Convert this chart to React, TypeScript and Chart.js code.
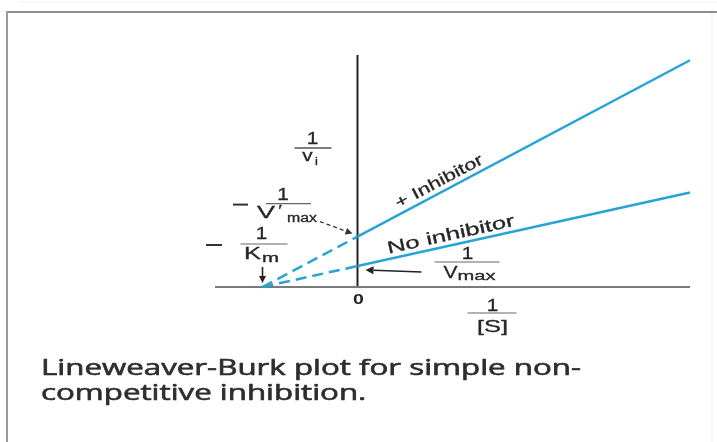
import { useEffect, useRef } from "react";
import { Chart, registerables } from "chart.js";

Chart.register(...registerables);

// ---- data (Lineweaver-Burk plot, arbitrary units) ----
const substrateInv = [-1, 0, 3.5]; // 1/[S]
const noInhibitorInv = [0, 1, 4.5]; // 1/v, no inhibitor
const withInhibitorInv = [0, 2.4, 10.8]; // 1/v, + inhibitor
const xAxisRange = [-1.5, 3.5];
const yAxisRange = [0, 11.05];
const seriesNames = ["+ Inhibitor", "No inhibitor"];
const originLabel = "0";
const captionLines = ["Lineweaver-Burk plot for simple non-", "competitive inhibition."];

const LINE_COLOR = "#27a3d6";
const LABEL_FONT = '"Liberation Sans", Arial, sans-serif';
const CAPTION_FONT = '"Open Sans", "Noto Sans", sans-serif';
const INK = "#262626";

type TOpts = {
  size: number;
  family?: string;
  weight?: string;
  color?: string;
  sx?: number;
  w?: number;
  rot?: number;
  align?: CanvasTextAlign;
  baseline?: CanvasTextBaseline;
  stroke?: number;
};

function drawText(ctx: CanvasRenderingContext2D, s: string, x: number, y: number, o: TOpts) {
  ctx.save();
  ctx.font = `${o.weight ?? "normal"} ${o.size}px ${o.family ?? LABEL_FONT}`;
  let sx = o.sx ?? 1;
  if (o.w) sx = o.w / ctx.measureText(s).width;
  ctx.translate(x, y);
  if (o.rot) ctx.rotate(o.rot);
  ctx.scale(sx, 1);
  ctx.fillStyle = o.color ?? INK;
  ctx.textAlign = o.align ?? "center";
  ctx.textBaseline = o.baseline ?? "middle";
  ctx.fillText(s, 0, 0);
  const st = o.stroke ?? 0.3;
  if (st > 0) {
    ctx.strokeStyle = o.color ?? INK;
    ctx.lineWidth = st;
    ctx.lineJoin = "round";
    ctx.strokeText(s, 0, 0);
  }
  ctx.restore();
}

function line(ctx: CanvasRenderingContext2D, x1: number, y1: number, x2: number, y2: number, color: string, w: number, dash: number[] = []) {
  ctx.save();
  ctx.strokeStyle = color;
  ctx.lineWidth = w;
  ctx.setLineDash(dash);
  ctx.beginPath();
  ctx.moveTo(x1, y1);
  ctx.lineTo(x2, y2);
  ctx.stroke();
  ctx.restore();
}

function arrow(ctx: CanvasRenderingContext2D, x1: number, y1: number, x2: number, y2: number, color: string, w: number, dash: number[] = [], head = 7) {
  const a = Math.atan2(y2 - y1, x2 - x1);
  const bx = x2 - Math.cos(a) * head;
  const by = y2 - Math.sin(a) * head;
  line(ctx, x1, y1, bx, by, color, w, dash);
  ctx.save();
  ctx.fillStyle = color;
  ctx.beginPath();
  ctx.moveTo(x2, y2);
  ctx.lineTo(bx + Math.sin(a) * head * 0.5, by - Math.cos(a) * head * 0.5);
  ctx.lineTo(bx - Math.sin(a) * head * 0.5, by + Math.cos(a) * head * 0.5);
  ctx.closePath();
  ctx.fill();
  ctx.restore();
}

const annotations = {
  id: "lbAnnotations",
  afterDraw(chart: any) {
    const ctx: CanvasRenderingContext2D = chart.ctx;
    const xs = chart.scales.x;
    const ys = chart.scales.y;
    const px = (v: number) => xs.getPixelForValue(v);
    const py = (v: number) => ys.getPixelForValue(v);
    const ox = px(0);
    const oy = py(0);
    const kmX = px(substrateInv[0]);
    const vmaxY = py(noInhibitorInv[1]);
    const vmaxPY = py(withInhibitorInv[1]);
    const S = 1.3;

    // frame
    line(ctx, 7, 12, 717, 12, "#8e8e8e", 2);
    line(ctx, 7, 11, 7, 442, "#9a9a9a", 2);
    line(ctx, 712, 13, 712, 442, "#ececec", 1);
    line(ctx, 20, 2, 717, 2, "#eeeeee", 1);

    // 1 / v_i
    drawText(ctx, "1", ox - 45, 140, { size: 16, sx: S });
    line(ctx, ox - 63, 148, ox - 26, 148, "#555", 1.3);
    drawText(ctx, "v", ox - 50, 157, { size: 16, sx: S });
    drawText(ctx, "i", ox - 41, 162, { size: 10, sx: S });

    // - 1 / V'max
    line(ctx, 233, vmaxPY - 32, 248, vmaxPY - 32, "#333", 2);
    drawText(ctx, "1", 283, vmaxPY - 41, { size: 16, sx: S });
    line(ctx, 266, vmaxPY - 33, 311, vmaxPY - 33, "#666", 1.2);
    drawText(ctx, "V", 266, vmaxPY - 23, { size: 17, w: 18 });
    drawText(ctx, "\u2032", 280, vmaxPY - 26, { size: 15, sx: S });
    drawText(ctx, "max", 302, vmaxPY - 18, { size: 12, w: 30 });
    arrow(ctx, 320, vmaxPY - 15, ox - 5, vmaxPY - 3, "#333", 1.3, [4, 3], 7);

    // - 1 / Km
    line(ctx, 206, oy - 42, 222, oy - 42, "#333", 2);
    drawText(ctx, "1", kmX - 1, oy - 52, { size: 16, sx: S });
    line(ctx, kmX - 22, oy - 43, kmX + 25, oy - 43, "#666", 1.2);
    drawText(ctx, "K", kmX - 10, oy - 33, { size: 17, w: 17 });
    drawText(ctx, "m", kmX + 8, oy - 28, { size: 12, w: 17 });
    arrow(ctx, kmX, oy - 20, kmX, oy - 4, "#222", 1.6, [], 7);

    // 1 / Vmax
    drawText(ctx, "1", ox + 110, vmaxY - 11, { size: 16, sx: S });
    line(ctx, ox + 77, vmaxY - 4, ox + 142, vmaxY - 4, "#666", 1.2);
    drawText(ctx, "V", ox + 93, vmaxY + 7, { size: 17, w: 14 });
    drawText(ctx, "max", ox + 119, vmaxY + 10, { size: 13, w: 38 });
    arrow(ctx, ox + 64, vmaxY + 6, ox + 8, vmaxY + 4, "#222", 1.5, [], 8);

    // series labels along the lines
    const a1 = Math.atan2(py(withInhibitorInv[2]) - py(withInhibitorInv[1]), px(substrateInv[2]) - px(substrateInv[1]));
    const a2 = Math.atan2(py(noInhibitorInv[2]) - py(noInhibitorInv[1]), px(substrateInv[2]) - px(substrateInv[1]));
    const c1x = 444;
    const c1y = vmaxPY + Math.tan(a1) * (c1x - ox);
    drawText(ctx, seriesNames[0], c1x + Math.sin(a1) * 10, c1y - Math.cos(a1) * 10, { size: 16, w: 97, rot: a1 });
    const c2x = 453;
    const c2y = vmaxY + Math.tan(a2) * (c2x - ox);
    drawText(ctx, seriesNames[1], c2x + Math.sin(a2) * 10, c2y - Math.cos(a2) * 10, { size: 17, w: 130, rot: a2 });

    // axis labels
    drawText(ctx, originLabel, ox + 1, oy + 13, { size: 15, sx: S, weight: "bold", stroke: 0 });
    drawText(ctx, "1", ox + 135, oy + 20, { size: 16, sx: S });
    line(ctx, ox + 110, oy + 26, ox + 159, oy + 26, "#666", 1.2);
    drawText(ctx, "[S]", ox + 135, oy + 40, { size: 17, w: 31 });

    // caption
    ctx.save();
    ctx.font = `normal 21px ${CAPTION_FONT}`;
    const capSx = 540 / ctx.measureText(captionLines[0]).width;
    ctx.restore();
    captionLines.forEach((t, i) => {
      drawText(ctx, t, 41, 375 + i * 25, {
        size: 21,
        family: CAPTION_FONT,
        sx: capSx,
        align: "left",
        baseline: "alphabetic",
        color: "#2e2e2e",
        stroke: 0.6,
      });
    });
  },
};

export default function App() {
  const ref = useRef<HTMLCanvasElement>(null);
  useEffect(() => {
    if (!ref.current) return;
    const pts = (ys: number[]) => substrateInv.map((x, i) => ({ x, y: ys[i] }));
    const chart = new Chart(ref.current, {
      type: "scatter",
      data: {
        datasets: [
          {
            label: seriesNames[0],
            data: pts(withInhibitorInv),
            showLine: true,
            borderColor: LINE_COLOR,
            borderWidth: 2.5,
            pointRadius: 0,
            clip: false as any,
            segment: { borderDash: (c: any) => (c.p1.parsed.x <= 0 ? [11, 6] : undefined) },
          },
          {
            label: seriesNames[1],
            data: pts(noInhibitorInv),
            showLine: true,
            borderColor: LINE_COLOR,
            borderWidth: 2.5,
            pointRadius: 0,
            clip: false as any,
            segment: { borderDash: (c: any) => (c.p1.parsed.x <= 0 ? [11, 6] : undefined) },
          },
          {
            label: "x-axis",
            data: xAxisRange.map((x) => ({ x, y: 0 })),
            showLine: true,
            borderColor: "#7a7a7a",
            borderWidth: 2,
            pointRadius: 0,
            clip: false as any,
          },
          {
            label: "y-axis",
            data: yAxisRange.map((y) => ({ x: 0, y })),
            showLine: true,
            borderColor: "#222",
            borderWidth: 2,
            pointRadius: 0,
            clip: false as any,
          },
        ],
      },
      options: {
        responsive: false,
        animation: false,
        events: [],
        layout: { autoPadding: false, padding: { left: 215, right: 27, top: 55, bottom: 155 } },
        scales: {
          x: { type: "linear", min: xAxisRange[0], max: xAxisRange[1], display: false },
          y: { type: "linear", min: yAxisRange[0], max: yAxisRange[1], display: false },
        },
        plugins: { legend: { display: false }, tooltip: { enabled: false } },
      },
      plugins: [annotations],
    });
    return () => chart.destroy();
  }, []);
  return (
    <div style={{ position: "absolute", left: 0, top: 0, width: 717, height: 442, background: "#fff" }}>
      <canvas ref={ref} width={717} height={442} />
    </div>
  );
}
